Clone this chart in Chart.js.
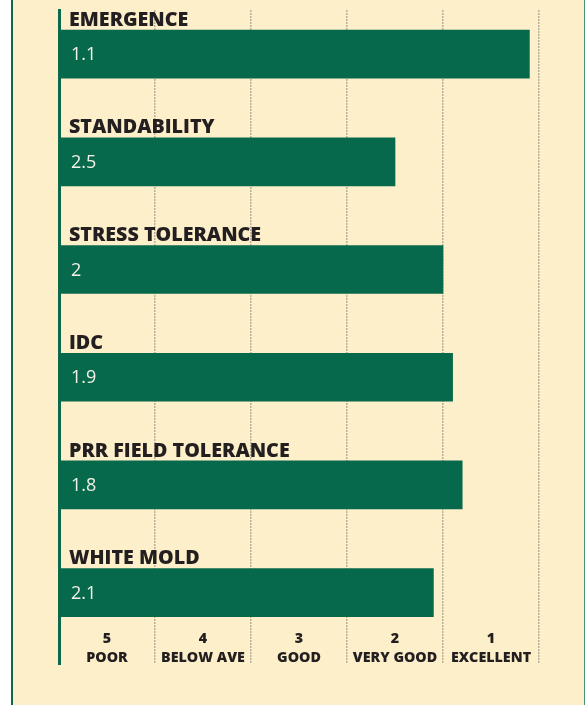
<!DOCTYPE html>
<html>
<head>
<meta charset="utf-8">
<script src="https://cdn.jsdelivr.net/npm/chart.js@4/dist/chart.umd.min.js"></script>
<style>
  html, body { margin: 0; padding: 0; background: #ffffff; }
  #frame {
    position: absolute; left: 11px; top: 0; width: 571px; height: 705px;
    background: #fdefc9; border-left: 2px solid #0b6a4b; border-right: 1px solid #4a9273;
  }
  #holder { position: absolute; left: 0; top: 0; width: 585px; height: 705px; }
</style>
</head>
<body>
<div id="frame"></div>
<div id="holder"><canvas id="c" width="585" height="705"></canvas></div>
<script>
// ---- data ----
const categories = ['EMERGENCE', 'STANDABILITY', 'STRESS TOLERANCE', 'IDC', 'PRR FIELD TOLERANCE', 'WHITE MOLD'];
const ratings = [1.1, 2.5, 2, 1.9, 1.8, 2.1];
const scaleNumbers = [5, 4, 3, 2, 1];
const scaleNames = ['POOR', 'BELOW AVE', 'GOOD', 'VERY GOOD', 'EXCELLENT'];

const GREEN = '#07694b';
const INK = '#231f20';
const FONT = '"Open Sans"';

const valueLabels = {
  id: 'valueLabels',
  afterDatasetsDraw(chart) {
    const ctx = chart.ctx;
    const meta = chart.getDatasetMeta(0);
    ctx.save();
    ctx.font = '18px ' + FONT;
    ctx.fillStyle = '#f3f1e6';
    ctx.textAlign = 'left';
    ctx.textBaseline = 'middle';
    meta.data.forEach((bar, i) => {
      ctx.fillText(String(ratings[i]), bar.base + 12, bar.y + 1);
    });
    ctx.restore();
  }
};

new Chart(document.getElementById('c'), {
  type: 'bar',
  data: {
    datasets: [{
      data: ratings.map((v, i) => ({ x: v, y: i })),
      base: 6,
      backgroundColor: GREEN,
      borderWidth: 0,
      barThickness: 48
    }]
  },
  options: {
    indexAxis: 'y',
    responsive: false,
    animation: false,
    events: [],
    layout: { padding: { left: 39, right: 46, top: 0, bottom: 41 } },
    plugins: { legend: { display: false }, tooltip: { enabled: false } },
    scales: {
      x: {
        type: 'linear',
        position: 'bottom',
        reverse: true,
        min: 1,
        max: 6,
        beginAtZero: false,
        offset: false,
        afterBuildTicks(scale) {
          scale.ticks = scaleNumbers.map(n => ({ value: n + 0.5 }));
        },
        grid: { display: true, offset: true, drawTicks: false, color: '#b9b09a', lineWidth: 1.5 },
        border: { display: false, dash: [2, 1] },
        ticks: {
          autoSkip: false,
          maxRotation: 0,
          padding: -35,
          color: INK,
          font: { family: FONT, size: 14.3, weight: 800, lineHeight: '19px' },
          callback: (value, index) => [String(scaleNumbers[index]), scaleNames[index]]
        }
      },
      y: {
        type: 'linear',
        position: 'left',
        reverse: true,
        min: -0.41,
        max: 5.663,
        offset: false,
        afterBuildTicks(scale) {
          scale.ticks = categories.map((c, i) => ({ value: i }));
        },
        grid: { display: false, drawTicks: false },
        border: { display: true, color: '#0b6a4b', width: 3 },
        ticks: {
          autoSkip: false,
          mirror: true,
          padding: 10,
          labelOffset: -34,
          color: INK,
          font: { family: FONT, size: 19.7, weight: 800, lineHeight: 0 },
          callback: (value) => categories[value]
        }
      }
    }
  },
  plugins: [valueLabels]
});
</script>
</body>
</html>
